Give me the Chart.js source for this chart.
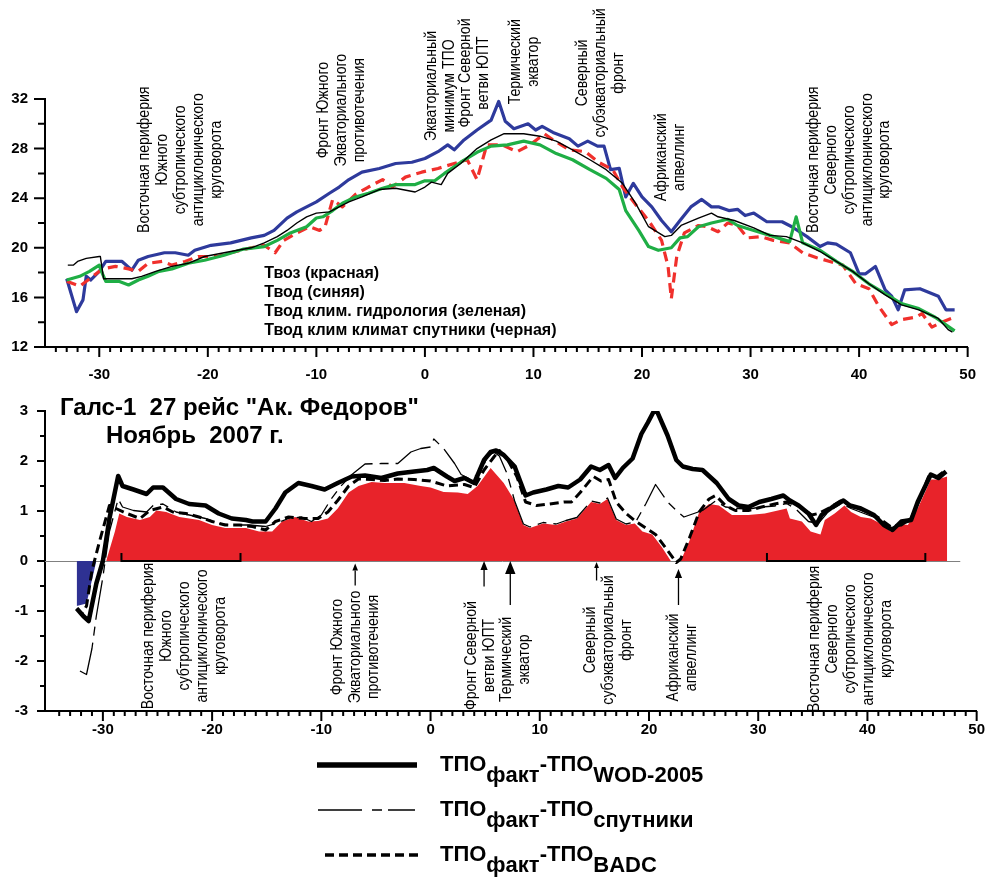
<!DOCTYPE html>
<html lang="ru">
<head>
<meta charset="utf-8">
<title>Галс-1, 27 рейс «Ак. Федоров», ноябрь 2007</title>
<script src="https://cdn.jsdelivr.net/npm/chart.js@4.4.1/dist/chart.umd.min.js"></script>
<style>
  html, body { margin: 0; padding: 0; background: #fff; }
  #page { position: relative; width: 995px; height: 878px; overflow: hidden; }
  canvas { position: absolute; left: 0; }
  #temps { top: 0; }
  #diffs { top: 385px; }
</style>
</head>
<body>
<div id="page">
  <canvas id="temps" width="995" height="385"></canvas>
  <canvas id="diffs" width="995" height="493"></canvas>
</div>
<script>
// Two stacked panels along the ship track (latitude on x). Values were read
// off the printed figure, so each curve keeps its own latitude list.

const FONT = '"Liberation Sans", Arial, sans-serif';

// ---- upper panel, °C ----
const airLat = [-33, -31.8, -30.6, -29.7, -28.5, -27.3, -26.4, -25.5, -24.2, -23.3, -22.1, -20.9, -19.1, -17.9, -16, -14.8, -13.8, -13, -11.8, -10.6, -9.7, -9.2, -8.5, -7.6, -6.4, -5.2, -3.9, -3, -1.8, -0.3, 1.2, 2.7, 3.9, 4.8, 5.7, 7.1, 8.5, 9.7, 11, 11.8, 13.3, 14.8, 16, 17.3, 18.2, 19.4, 20.6, 21.8, 22.4, 22.7, 23.2, 23.9, 25.2, 26, 27, 27.9, 28.8, 29.7, 30.9, 32.1, 33.6, 34.8, 36.1, 37.3, 38.5, 39.7, 40.9, 41.8, 43, 43.9, 45.2, 45.8, 46.7, 47.6, 48.8];
const airT = [17.3, 16.9, 17.7, 18.3, 18.5, 18.3, 18.1, 18.75, 18.9, 18.6, 18.9, 19.3, 19.3, 19.6, 20.0, 20.2, 19.6, 20.6, 21.2, 21.7, 21.4, 21.7, 23.9, 23.3, 24.3, 24.9, 25.5, 24.9, 25.7, 26.1, 26.4, 26.8, 27.1, 25.5, 28.3, 28.3, 27.75, 28.3, 29.2, 28.7, 27.9, 27.75, 26.9, 26.3, 24.9, 23.5, 22.2, 20.6, 18.5, 15.9, 19.3, 21.2, 21.8, 21.7, 21.3, 22.0, 21.8, 20.8, 20.9, 20.6, 20.4, 19.6, 19.2, 18.9, 18.6, 17.1, 16.7, 15.3, 13.8, 14.2, 14.4, 14.7, 13.6, 14.0, 14.4];

const seaLat = [-33, -32.1, -31.5, -31.2, -30.8, -30, -29.4, -27.9, -27, -26.4, -25.5, -24, -23, -21.8, -21.2, -19.7, -17.9, -16, -14.8, -13.9, -12.7, -11.8, -10.9, -10, -8.8, -7.9, -7, -5.8, -4.2, -2.7, -1.2, 0, 1.2, 2.1, 2.7, 3.6, 4.8, 6.1, 6.8, 7.4, 8.2, 9.5, 10.2, 10.8, 11.8, 13.3, 14.1, 15, 15.9, 16.5, 17.1, 17.9, 18.5, 19.2, 20, 20.9, 21.8, 22.7, 23.5, 24.5, 25.5, 26.4, 27.1, 28, 28.8, 29.5, 30.3, 31.5, 32.9, 33.8, 35.2, 36.4, 37.1, 37.9, 39.2, 40, 40.6, 41.5, 42.4, 43, 43.6, 44.2, 45.6, 47.3, 48, 48.8];
const seaT = [17.5, 14.85, 15.8, 17.7, 17.4, 18.1, 18.9, 18.9, 18.2, 19.0, 19.3, 19.6, 19.6, 19.4, 19.8, 20.2, 20.4, 20.8, 21.0, 21.4, 22.4, 22.9, 23.3, 23.7, 24.4, 24.9, 25.5, 26.1, 26.4, 26.8, 26.9, 27.2, 27.75, 28.3, 27.9, 28.7, 29.5, 30.3, 31.8, 30.2, 29.6, 30.0, 29.5, 29.8, 29.3, 28.8, 28.2, 28.6, 28.2, 28.2, 26.3, 26.4, 24.1, 25.2, 24.1, 23.3, 22.2, 21.3, 22.2, 23.3, 23.9, 23.3, 23.3, 23.0, 23.1, 22.6, 22.8, 22.1, 22.1, 21.7, 20.9, 20.1, 20.4, 20.3, 19.6, 17.9, 17.9, 18.5, 16.6, 16.1, 15.0, 16.6, 16.7, 16.1, 15.0, 15.0];

const hydroLat = [-33, -31.8, -30.9, -30, -29.7, -29.4, -28.2, -27.3, -26.4, -25.5, -24.5, -23.3, -21.8, -20.3, -18.5, -16.7, -14.8, -13.6, -12.4, -10.9, -10, -9.4, -8.5, -7.6, -6.4, -5.2, -3.9, -2.7, -0.9, 0, 0.9, 1.8, 3.3, 4.8, 6.1, 7.6, 9.1, 10.6, 12.1, 13.6, 15.2, 16.7, 17.9, 18.5, 19.7, 20.6, 21.5, 22.7, 23.5, 24.2, 25.2, 26.4, 27.9, 28.8, 30.3, 31.8, 33.6, 34.2, 34.8, 36.4, 37.9, 39.4, 40.9, 42.4, 43.9, 45.5, 47, 48.8];
const hydroT = [17.4, 17.7, 18.1, 18.6, 17.9, 17.3, 17.3, 17.0, 17.4, 17.7, 18.1, 18.3, 18.75, 19.0, 19.4, 19.9, 20.1, 20.6, 21.2, 21.7, 22.4, 22.5, 23.0, 23.6, 24.1, 24.4, 24.8, 25.1, 25.1, 25.4, 25.4, 26.0, 26.9, 27.7, 28.2, 28.3, 28.6, 28.3, 27.6, 27.1, 26.3, 25.6, 24.7, 23.0, 21.4, 20.1, 19.8, 20.0, 20.8, 20.9, 21.7, 22.0, 22.3, 21.8, 21.4, 21.0, 20.5, 22.5, 20.4, 19.8, 18.9, 18.1, 17.1, 16.3, 15.5, 15.1, 14.4, 13.3];

const satLat = [-32.9, -32.4, -32, -31.2, -30, -29.9, -29.6, -27, -26.1, -24.8, -23.3, -21.8, -20.3, -17.9, -16, -14.8, -13.6, -12.7, -11.8, -10.9, -10, -8.8, -7.9, -7, -5.8, -4.2, -2.7, -0.9, 0, 0.6, 1.5, 2.1, 3.3, 4.8, 6.1, 7.3, 9.1, 10.6, 12.1, 13.6, 15.2, 16.7, 18.2, 19.4, 20.6, 22.1, 22.7, 23.6, 25.2, 26.4, 27, 28.5, 30.3, 31.8, 33.3, 34.8, 36.4, 37.9, 39.4, 40.9, 42.4, 43.9, 45.5, 47.3, 48.2, 48.6];
const satT = [18.6, 18.6, 18.9, 19.15, 19.3, 19.3, 17.5, 17.5, 17.7, 18.1, 18.5, 18.75, 19.3, 19.7, 20.0, 20.4, 20.9, 21.4, 22.0, 22.5, 22.8, 22.9, 23.3, 23.7, 24.1, 24.7, 24.8, 24.5, 24.9, 25.3, 25.1, 26.0, 26.8, 28.0, 28.7, 29.2, 29.2, 29.0, 28.6, 27.9, 27.1, 26.3, 25.2, 23.6, 21.7, 20.9, 21.0, 21.8, 22.4, 22.8, 22.5, 22.2, 21.6, 21.0, 20.9, 20.4, 19.7, 18.9, 18.1, 17.1, 16.2, 15.4, 15.0, 14.3, 13.4, 13.2];

const upperLegend = ['Твоз (красная)', 'Твод (синяя)', 'Твод клим. гидрология (зеленая)', 'Твод клим климат спутники (черная)'];

const upperNotes = [
  { lat: -22.5, at: 27.1, lines: ['Восточная периферия', 'Южного', 'субтропического', 'антициклонического', 'круговорота'] },
  { lat: -7.7, at: 31.1, lines: ['Фронт Южного', 'Экваториального', 'противотечения'] },
  { lat: 1.45, at: 33.05, lines: ['Экваториальный', 'минимум ТПО'] },
  { lat: 4.55, at: 34.1, lines: ['Фронт Северной', 'ветви ЮПТ'] },
  { lat: 9.2, at: 35.0, lines: ['Термический', 'экватор'] },
  { lat: 16.2, at: 34.1, lines: ['Северный', 'субэкваториальный', 'фронт'] },
  { lat: 22.6, at: 27.3, lines: ['Африканский', 'апвеллинг'] },
  { lat: 39.1, at: 27.1, lines: ['Восточная периферия', 'Северного', 'субтропического', 'антициклонического', 'круговорота'] },
];

// ---- lower panel, differences °C ----
const wodLat = [-32.4, -31.8, -31.3, -30.6, -30, -29.4, -28.6, -28.2, -27.2, -26, -25.4, -24.5, -23.3, -22.1, -20.6, -19.4, -18.2, -16.9, -16.3, -15.1, -14.2, -13.3, -12.1, -10.9, -9.7, -8.5, -7.2, -6, -4.5, -3, -1.5, -0.3, 0.3, 1.5, 2.2, 3.1, 4, 4.9, 5.5, 6, 6.7, 7.7, 8.7, 9.4, 10.6, 11.7, 12.6, 13.7, 14.7, 15.5, 16.3, 16.9, 17.6, 18.5, 19.3, 19.9, 20.6, 21.7, 22.5, 23.1, 24, 24.9, 26.2, 27.3, 28.2, 29.1, 30.1, 31.2, 32.3, 32.9, 33.7, 34.6, 35.3, 35.8, 36.8, 37.8, 38.4, 39.4, 40.6, 41.5, 42.3, 43.1, 44, 44.6, 45.8, 46.5, 47.2];
const wodD = [-0.95, -1.1, -1.2, -0.45, 0, 0.85, 1.7, 1.5, 1.43, 1.34, 1.47, 1.47, 1.24, 1.14, 1.11, 0.95, 0.85, 0.82, 0.79, 0.79, 1.05, 1.37, 1.56, 1.5, 1.43, 1.56, 1.69, 1.71, 1.66, 1.75, 1.79, 1.82, 1.86, 1.69, 1.6, 1.66, 1.56, 2.02, 2.18, 2.21, 2.12, 1.89, 1.31, 1.37, 1.43, 1.5, 1.47, 1.63, 1.89, 1.82, 1.92, 1.66, 1.86, 2.05, 2.54, 2.77, 3.06, 2.51, 2.02, 1.89, 1.84, 1.82, 1.56, 1.24, 1.11, 1.08, 1.18, 1.24, 1.31, 1.21, 1.11, 0.95, 0.72, 0.92, 1.08, 1.21, 1.11, 1.05, 0.92, 0.72, 0.62, 0.79, 0.82, 1.18, 1.73, 1.66, 1.79];

const badcLat = [-32.4, -31.9, -31.5, -31, -30.3, -29.4, -28.8, -27.8, -26.6, -25.7, -24.5, -23.6, -22.4, -21.2, -20, -18.8, -17.5, -16.3, -15.1, -14.2, -13, -11.5, -10.3, -9.4, -8.5, -7.5, -6.6, -5.4, -4.2, -3, -1.5, 0, 1.5, 3.1, 4, 4.9, 5.8, 6.3, 7, 7.9, 8.7, 9.7, 10.9, 12.2, 12.9, 13.7, 14.9, 15.6, 16.3, 16.5, 17, 17.9, 18.8, 19.7, 20.6, 21.5, 22.5, 22.9, 23.7, 24.6, 25.5, 26.1, 27, 27.9, 29.1, 30.3, 31.5, 32.6, 33.4, 34.3, 34.9, 35.5, 36.4, 37.6, 38.5, 39.7, 40.9, 42.1, 43.1, 44, 44.9, 45.6, 46.4, 47.2];
const badcD = [-0.95, -1.05, -0.9, -0.19, 0.4, 1.11, 1.05, 0.95, 0.85, 1.01, 1.08, 0.98, 0.95, 0.88, 0.79, 0.72, 0.72, 0.69, 0.62, 0.79, 0.88, 0.85, 0.85, 0.98, 1.21, 1.5, 1.64, 1.63, 1.61, 1.64, 1.63, 1.6, 1.5, 1.53, 1.47, 1.82, 2.08, 2.21, 2.05, 1.69, 1.18, 1.11, 1.14, 1.18, 1.18, 1.37, 1.69, 1.6, 1.63, 1.5, 1.18, 0.95, 0.79, 0.66, 0.53, 0.27, -0.03, 0.04, 0.46, 0.98, 1.24, 1.31, 1.11, 1.01, 1.01, 1.08, 1.14, 1.18, 1.14, 1.01, 0.92, 0.95, 1.05, 1.21, 1.11, 1.01, 0.88, 0.69, 0.72, 0.85, 1.31, 1.69, 1.69, 1.82];

const satDLat = [-32.1, -31.5, -31, -30.6, -30, -29.4, -28.6, -28.2, -27.2, -26, -25.4, -24.5, -23.3, -22.1, -20.6, -19.4, -18.2, -16.6, -15.1, -14.2, -13, -11.8, -10.9, -10, -9.1, -8.2, -7.2, -6, -4.5, -3, -1.8, -0.9, 0, 0.3, 1.2, 2.2, 2.8, 3.7, 4.6, 5.2, 5.8, 6.3, 7, 7.7, 8.5, 9.1, 10.3, 11.5, 12.4, 13.4, 14.7, 15.5, 16.2, 17, 17.9, 18.8, 19.7, 20.6, 21.7, 22.5, 23.2, 24.9, 26.1, 27, 28.2, 29.1, 30.3, 31.5, 32.6, 33.4, 34.6, 35.5, 36.4, 37.6, 38.5, 39.7, 40.9, 42.1, 43.1, 44, 44.9, 45.6, 46.4, 47.2];
const satD = [-2.2, -2.27, -1.75, -1.1, -0.32, 0.59, 1.24, 1.08, 1.01, 0.98, 1.11, 1.14, 0.98, 0.92, 0.85, 0.75, 0.72, 0.72, 0.69, 0.75, 0.85, 0.88, 0.79, 0.92, 1.24, 1.5, 1.73, 1.94, 1.95, 1.95, 2.18, 2.25, 2.28, 2.44, 2.25, 1.95, 1.73, 1.63, 1.79, 2.08, 2.18, 2.1, 1.75, 1.2, 0.74, 0.68, 0.77, 0.74, 0.81, 0.87, 1.2, 1.16, 1.26, 0.84, 0.74, 0.79, 1.14, 1.53, 1.18, 1.01, 0.88, 1.01, 1.2, 1.08, 1.05, 1.04, 1.08, 1.1, 1.15, 1.05, 0.79, 0.75, 0.98, 1.15, 1.05, 0.95, 0.85, 0.66, 0.72, 0.8, 1.25, 1.66, 1.66, 1.76];

// shaded areas: red where positive, blue where negative
const warmLat = [-29.7, -28.9, -28.5, -27.8, -26.6, -25.7, -25.1, -24.2, -23, -21.2, -20, -18.8, -16.9, -15.7, -14.5, -13.6, -12.4, -11.2, -10.3, -9.4, -8.5, -7.5, -6.6, -5.4, -4.2, -2.4, -0.9, 0, 1.2, 2.5, 3.4, 4.3, 5.5, 6.7, 7.6, 8.5, 9.1, 10.3, 11.5, 12.4, 13.4, 14.7, 15.5, 16.2, 17, 17.9, 18.7, 19.4, 20.3, 21.2, 22, 22.9, 23.7, 24.6, 25.5, 26.4, 27.6, 29.1, 30.6, 32.6, 32.9, 34, 34.8, 35.7, 36.1, 37, 37.9, 38.5, 39.4, 40.3, 41.2, 42.1, 42.9, 43.7, 44.6, 45.8, 46.4, 47.3, 47.3];
const warmD = [0, 0.59, 0.95, 0.88, 0.82, 0.88, 1.01, 0.98, 0.88, 0.82, 0.72, 0.66, 0.66, 0.59, 0.59, 0.79, 0.88, 0.79, 0.8, 0.85, 1.05, 1.37, 1.5, 1.58, 1.56, 1.56, 1.5, 1.47, 1.38, 1.37, 1.34, 1.5, 1.86, 1.56, 1.24, 0.72, 0.66, 0.75, 0.72, 0.79, 0.85, 1.18, 1.14, 1.24, 0.82, 0.72, 0.75, 0.59, 0.53, 0.27, 0, 0, 0.4, 0.98, 1.14, 1.11, 0.92, 0.92, 0.95, 1.05, 0.85, 0.79, 0.59, 0.53, 0.82, 0.95, 1.11, 0.98, 0.88, 0.85, 0.75, 0.59, 0.75, 0.72, 1.05, 1.63, 1.63, 1.69, 0];
const coldLat = [-32.4, -32.4, -31.5, -30.6];
const coldD = [0, -0.9, -0.85, 0];

const lowerNotes = [
  { lat: -22.5, at: -1.5, lines: ['Восточная периферия', 'Южного', 'субтропического', 'антициклонического', 'круговорота'] },
  { lat: -6.9, at: -1.72, lines: ['Фронт Южного', 'Экваториального', 'противотечения'] },
  { lat: 4.6, at: -1.89, lines: ['Фронт Северной', 'ветви ЮПТ'] },
  { lat: 7.8, at: -1.97, lines: ['Термический', 'экватор'] },
  { lat: 16.3, at: -1.58, lines: ['Северный', 'субэкваториальный', 'фронт'] },
  { lat: 23.1, at: -1.93, lines: ['Африканский', 'апвеллинг'] },
  { lat: 38.5, at: -1.56, lines: ['Восточная периферия', 'Северного', 'субтропического', 'антициклонического', 'круговорота'] },
];
// arrows point up at the front positions; brackets mark the gyre peripheries
const arrowLat = [-6.9, 4.9, 7.3, 15.2, 22.7];
const arrowFrom = [-0.49, -0.51, -0.88, -0.39, -0.88];
const arrowTo = [-0.05, 0, 0, -0.02, -0.16];
const bracketFrom = [-28.3, 30.8];
const bracketTo = [-17.4, 45.3];

const titleLines = ['Галс-1  27 рейс "Ак. Федоров"', 'Ноябрь  2007 г.'];
const lowerLegend = ['WOD-2005', 'спутники', 'BADC'];

const pts = (xs, ys) => xs.map((x, i) => ({ x, y: ys[i] }));

// Major ticks come from Chart.js labels; the short intermediate marks are drawn here.
const axisTicks = {
  id: 'axisTicks',
  afterDraw(chart, args, o) {
    const { ctx, chartArea: a, scales: { x, y } } = chart;
    ctx.save();
    ctx.strokeStyle = '#000';
    ctx.lineWidth = 2;
    ctx.beginPath();
    for (let v = Math.ceil(x.min) + 1; v <= x.max; v++) {
      const px = x.getPixelForValue(v);
      ctx.moveTo(px, a.bottom);
      ctx.lineTo(px, a.bottom + (v % 10 === 0 ? 10 : 5));
    }
    const n = Math.round((y.max - y.min) / o.yMinor);
    for (let i = 0; i <= n; i++) {
      const v = y.min + i * o.yMinor;
      const r = v / o.yMajor;
      const major = Math.abs(r - Math.round(r)) < 1e-6;
      const py = y.getPixelForValue(v);
      ctx.moveTo(a.left - (major ? o.majorLen : o.minorLen), py);
      ctx.lineTo(a.left, py);
    }
    ctx.stroke();
    ctx.restore();
  },
};

// Vertical (rotated) place-name captions. The printed figure is squeezed
// vertically, so the rotated text is a little shorter than the font implies.
const notes = {
  id: 'notes',
  afterDraw(chart, args, o) {
    const { ctx, scales: { x, y } } = chart;
    ctx.save();
    ctx.fillStyle = '#000';
    ctx.font = o.font;
    ctx.textAlign = 'center';
    ctx.textBaseline = 'middle';
    for (const b of o.blocks) {
      const cx = x.getPixelForValue(b.lat);
      const cy = y.getPixelForValue(b.at);
      const mid = (b.lines.length - 1) / 2;
      b.lines.forEach((line, i) => {
        ctx.save();
        ctx.translate(cx + (i - mid) * o.gap, cy);
        ctx.rotate(-Math.PI / 2);
        ctx.scale(o.squeeze, 1);
        ctx.fillText(line, 0, 0);
        ctx.restore();
      });
    }
    ctx.restore();
  },
};

const tempKey = {
  id: 'tempKey',
  afterDraw(chart, args, o) {
    const { ctx, scales: { x, y } } = chart;
    ctx.save();
    ctx.fillStyle = '#000';
    ctx.font = o.font;
    ctx.textBaseline = 'alphabetic';
    const left = x.getPixelForValue(o.lat);
    const top = y.getPixelForValue(o.at);
    upperLegend.forEach((t, i) => ctx.fillText(t, left, top + i * o.gap));
    ctx.restore();
  },
};

const profileMarks = {
  id: 'profileMarks',
  beforeDatasetsDraw(chart, args, o) {
    const { ctx, chartArea: a, scales: { x, y } } = chart;
    const y0 = y.getPixelForValue(0);
    ctx.save();
    ctx.strokeStyle = '#808080';
    ctx.lineWidth = 1;
    ctx.beginPath();
    ctx.moveTo(a.left, y0 + 0.5);
    ctx.lineTo(x.getPixelForValue(o.zeroEnd), y0 + 0.5);
    ctx.stroke();
    ctx.restore();
  },
  afterDatasetsDraw(chart, args, o) {
    const { ctx, scales: { x, y } } = chart;
    const y0 = y.getPixelForValue(0);
    ctx.save();
    ctx.strokeStyle = '#000';
    ctx.fillStyle = '#000';
    ctx.lineWidth = 2;
    bracketFrom.forEach((from, i) => {
      const x1 = x.getPixelForValue(from), x2 = x.getPixelForValue(bracketTo[i]);
      ctx.beginPath();
      ctx.moveTo(x1, y0 - 8); ctx.lineTo(x1, y0); ctx.lineTo(x2, y0); ctx.lineTo(x2, y0 - 8);
      ctx.stroke();
    });
    ctx.lineWidth = 1.3;
    arrowLat.forEach((lat, i) => {
      const px = x.getPixelForValue(lat);
      const yTail = y.getPixelForValue(arrowFrom[i]);
      const yTip = y.getPixelForValue(arrowTo[i]);
      const h = o.heads[i];
      ctx.beginPath(); ctx.moveTo(px, yTail); ctx.lineTo(px, yTip + h); ctx.stroke();
      ctx.beginPath();
      ctx.moveTo(px, yTip); ctx.lineTo(px - h * 0.4, yTip + h); ctx.lineTo(px + h * 0.4, yTip + h);
      ctx.closePath(); ctx.fill();
    });
    ctx.restore();
  },
  afterDraw(chart, args, o) {
    const { ctx, chartArea: a } = chart;
    ctx.save();
    ctx.fillStyle = '#000';
    ctx.font = o.titleFont;
    ctx.fillText(titleLines[0], a.left + 15, 30);
    ctx.fillText(titleLines[1], a.left + 61, 58);

    // key below the axis
    o.keys.forEach((k, i) => {
      const yl = o.keyTop + i * o.keyGap;
      ctx.strokeStyle = '#000';
      ctx.lineWidth = k.width;
      ctx.setLineDash(k.dash);
      ctx.beginPath(); ctx.moveTo(k.x1, yl); ctx.lineTo(k.x2, yl); ctx.stroke();
      ctx.setLineDash([]);
      let tx = o.textX;
      const base = yl + o.baseShift;
      ['ТПО', 'факт', '-ТПО', lowerLegend[i]].forEach((t, j) => {
        ctx.font = o.keyFont;
        ctx.fillText(t, tx, j % 2 ? base + o.subDrop : base);
        tx += ctx.measureText(t).width;
      });
    });
    ctx.restore();
  },
};

Chart.defaults.font.family = FONT;
Chart.defaults.color = '#000';

const tickFont = { family: FONT, size: 15, weight: 'bold' };
const axisX = (min, padding, height) => ({
  type: 'linear', min, max: 50,
  grid: { display: false, drawTicks: false },
  border: { color: '#000', width: 2 },
  ticks: { stepSize: 10, includeBounds: false, autoSkip: false, maxRotation: 0, padding, font: tickFont, color: '#000' },
  afterFit: (s) => { s.height = height; },
});
const axisY = (min, max, stepSize) => ({
  type: 'linear', min, max,
  grid: { display: false, drawTicks: false },
  border: { color: '#000', width: 2 },
  ticks: { stepSize, padding: 17, font: tickFont, color: '#000' },
  afterFit: (s) => { s.width = 45; },
});
const line = (data, color, width, dash) => ({
  data, borderColor: color, borderWidth: width, borderDash: dash || [],
  pointRadius: 0, tension: 0, fill: false, borderJoinStyle: 'round',
});

new Chart(document.getElementById('temps'), {
  type: 'line',
  data: {
    datasets: [
      // first dataset is painted last, i.e. on top
      line(pts(satLat, satT), '#000000', 1.4),
      line(pts(hydroLat, hydroT), '#1fae45', 3.2),
      line(pts(airLat, airT), '#f0302c', 3.2, [10, 6]),
      line(pts(seaLat, seaT), '#2e3a9c', 3.2),
    ],
  },
  options: {
    responsive: false, animation: false, devicePixelRatio: 1,
    layout: { padding: { top: 99, right: 15, left: 0, bottom: 0 } },
    scales: { x: axisX(-35, 19, 38), y: axisY(12, 32, 4) },
    plugins: {
      legend: { display: false }, tooltip: { enabled: false },
      axisTicks: { yMinor: 2, yMajor: 4, majorLen: 11, minorLen: 7 },
      notes: { blocks: upperNotes, gap: 17.8, squeeze: 0.88, font: `16px ${FONT}` },
      tempKey: { lat: -14.8, at: 17.56, gap: 18.9, font: `bold 16px ${FONT}` },
    },
  },
  plugins: [axisTicks, notes, tempKey],
});

new Chart(document.getElementById('diffs'), {
  type: 'line',
  data: {
    datasets: [
      line(pts(wodLat, wodD), '#000000', 4.5),
      line(pts(badcLat, badcD), '#000000', 3, [9, 5]),
      line(pts(satDLat, satD), '#000000', 1.3, [40, 7, 9, 7]),
      { ...line(pts(coldLat, coldD), 'rgba(0,0,0,0)', 0), fill: 'origin', backgroundColor: '#2e3192' },
      { ...line(pts(warmLat, warmD), 'rgba(0,0,0,0)', 0), fill: 'origin', backgroundColor: '#e8232a' },
    ],
  },
  options: {
    responsive: false, animation: false, devicePixelRatio: 1,
    layout: { padding: { top: 18, right: 12, left: 0, bottom: 0 } },
    scales: { x: axisX(-35.3, 10, 167), y: axisY(-3, 3, 1) },
    plugins: {
      legend: { display: false }, tooltip: { enabled: false },
      axisTicks: { yMinor: 0.5, yMajor: 1, majorLen: 8, minorLen: 5 },
      notes: { blocks: lowerNotes, gap: 18, squeeze: 0.88, font: `16px ${FONT}` },
      profileMarks: {
        zeroEnd: 48.5,
        heads: [7, 9, 13, 6, 9],
        titleFont: `bold 24px ${FONT}`,
        keyFont: `bold 22px ${FONT}`,
        keyTop: 380, keyGap: 45, textX: 440, baseShift: 6, subDrop: 11,
        keys: [
          { x1: 317, x2: 417, width: 5.5, dash: [] },
          { x1: 318, x2: 415, width: 1.5, dash: [44, 10, 10, 6] },
          { x1: 325, x2: 418, width: 3.5, dash: [9, 5] },
        ],
      },
    },
  },
  plugins: [axisTicks, notes, profileMarks],
});
</script>
</body>
</html>
